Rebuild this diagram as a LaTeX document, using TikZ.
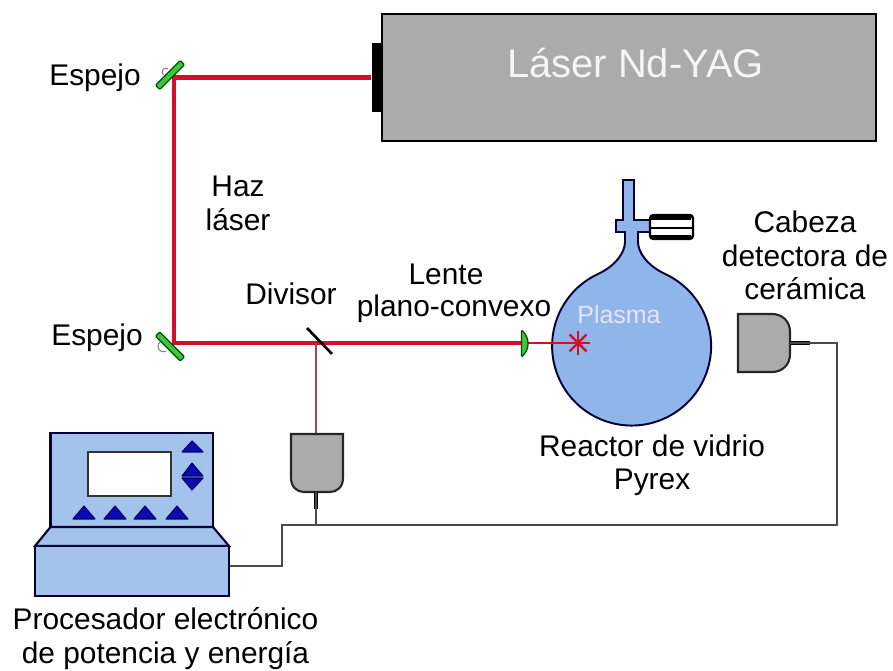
\documentclass[tikz,border=0pt]{standalone}
\usepackage{fontspec}
\setmainfont{Liberation Sans}
\definecolor{beamred}{HTML}{D2102C}
\definecolor{cablegrey}{HTML}{4A4A4A}
\definecolor{boxgrey}{HTML}{ABABAB}
\definecolor{panelblue}{HTML}{A3C2EC}
\definecolor{flaskblue}{HTML}{8FB5EA}
\definecolor{keyblue}{HTML}{0A0AB4}
\definecolor{mirrorgreen}{HTML}{3CC83C}
\tikzset{
  label/.style={align=center, font=\fontsize{8.5}{9.5}\selectfont, inner sep=0pt},
  beam/.style={draw=beamred, line width=1.15pt},
  thinbeam/.style={draw=beamred, line width=0.55pt},
  cable/.style={draw=cablegrey, line width=0.5pt},
  mirror/.style={draw=black!70!green, fill=mirrorgreen, line width=0.35pt, rounded corners=0.3pt},
  housing/.style={draw=black!85, fill=boxgrey, line width=0.6pt},
  panel/.style={draw=black!80!blue, fill=panelblue, line width=0.6pt},
  keytop/.style={fill=keyblue, draw=black!60!blue, line width=0.3pt, line join=round},
}
\begin{document}
\begin{tikzpicture}[x=1cm,y=-1cm]
\useasboundingbox (0,0) rectangle (8.93,6.71);

% laser head
\node[draw=black, fill=boxgrey, line width=0.7pt, minimum width=4.94cm, minimum height=1.27cm, inner sep=0pt] (laser) at (6.29,0.775) {};
\node[fill=black, minimum width=0.1cm, minimum height=0.69cm, inner sep=0pt] (nozzle) at (3.77,0.775) {};
\node[text=white!92!gray, font=\fontsize{11.35}{13}\selectfont, inner sep=0pt] (lasertext) at (6.355,0.63) {Láser Nd-YAG};

% beam corners
\coordinate (m1) at (1.74,0.775);
\coordinate (m2) at (1.74,3.43);
\coordinate (split) at (3.16,3.43);
\coordinate (lens) at (5.24,3.43);
\coordinate (spark) at (5.78,3.43);
\coordinate (headin) at (3.16,4.34);

% reactor
\draw[draw=black!80!blue, fill=flaskblue, line width=0.55pt]
  (6.23,1.80) -- (6.23,2.20) -- (6.16,2.20) -- (6.16,2.32) -- (6.25,2.32) -- (6.25,2.42)
  .. controls (6.25,2.52) and (6.16,2.656) .. (5.98,2.74)
  arc[start angle=245, end angle=-65, radius=0.795]
  .. controls (6.47,2.656) and (6.38,2.52) .. (6.38,2.42)
  -- (6.38,2.32) -- (6.50,2.32) -- (6.50,2.20) -- (6.34,2.20) -- (6.34,1.80) -- cycle;
\draw[fill=white, line width=0.7pt, rounded corners=1pt] (6.50,2.15) rectangle (6.93,2.39);
\fill[black] (6.50,2.15) rectangle (6.91,2.20);
\fill[black] (6.50,2.27) rectangle (6.92,2.29);
\fill[black] (6.50,2.35) rectangle (6.91,2.39);
\node[text=white!90!blue, font=\fontsize{7.1}{9}\selectfont, inner sep=0pt] (plasma) at (6.19,3.15) {Plasma};

% beam path
\path[beam] (nozzle) -- (m1) -- (m2) -- (lens);
\path[thinbeam] (lens) -- (spark);
\path[draw=beamred!55!gray, line width=0.3pt] (split) -- (headin);
\foreach \a in {0,45,90,135}
  \draw[beamred, line width=0.7pt] (spark) ++(\a:0.12) -- ++(\a+180:0.24);

% mirrors and optics
\draw[gray, line width=0.3pt] (1.635,0.75) .. controls (1.60,0.72) and (1.64,0.66) .. (1.68,0.69);
\draw[mirror, rotate around={45:(1.70,0.75)}] (1.525,0.72) rectangle (1.875,0.78);
\draw[gray, line width=0.3pt] (1.60,3.42) .. controls (1.55,3.47) and (1.60,3.54) .. (1.66,3.51);
\draw[mirror, rotate around={-45:(1.70,3.465)}] (1.525,3.435) rectangle (1.875,3.495);
\draw[black, line width=0.75pt] (3.07,3.28) -- (3.32,3.54);
\draw[mirror] (5.215,3.30) .. controls (5.30,3.38) and (5.30,3.49) .. (5.215,3.57) -- cycle;

% detector heads
\draw[housing] (2.91,4.34) -- (3.43,4.34) -- (3.43,4.78) .. controls (3.43,4.87) and (3.37,4.92) .. (3.30,4.92)
  -- (3.04,4.92) .. controls (2.97,4.92) and (2.91,4.87) .. (2.91,4.78) -- cycle;
\draw[housing] (7.38,3.14) -- (7.72,3.14) .. controls (7.82,3.14) and (7.90,3.21) .. (7.90,3.32)
  -- (7.90,3.54) .. controls (7.90,3.65) and (7.82,3.72) .. (7.72,3.72) -- (7.38,3.72) -- cycle;
\coordinate (headout) at (3.16,4.92);
\coordinate (join) at (3.16,5.25);
\coordinate (sideout) at (7.90,3.43);
\coordinate (c1) at (8.37,3.43);
\coordinate (c2) at (8.37,5.25);
\coordinate (c3) at (2.82,5.25);
\coordinate (c4) at (2.82,5.66);
\coordinate (boxout) at (2.29,5.66);
\draw[black, line width=0.9pt] (headout) -- ++(0,0.17);
\draw[black, line width=0.9pt] (sideout) -- ++(0.2,0);
\path[cable] (headout) -- (join);
\path[cable] (sideout) -- (c1) -- (c2) -- (c3) -- (c4) -- (boxout);

% processor
\draw[panel] (0.505,4.33) rectangle (2.13,5.27);
\draw[panel] (0.505,5.27) -- (2.13,5.27) -- (2.29,5.46) -- (0.35,5.46) -- cycle;
\draw[panel] (0.35,5.46) rectangle (2.29,5.96);
\draw[draw=black!80, fill=white, line width=0.6pt] (0.88,4.52) rectangle (1.71,4.96);
\draw[keytop] (1.82,4.52) -- (1.92,4.41) -- (2.03,4.52) -- cycle;
\draw[keytop] (1.82,4.76) -- (1.92,4.63) -- (2.03,4.76) -- cycle;
\draw[keytop] (1.82,4.78) -- (1.92,4.90) -- (2.03,4.78) -- cycle;
\foreach \x in {0.84,1.15,1.45,1.77}
  \draw[keytop] (\x-0.11,5.19) -- (\x,5.06) -- (\x+0.11,5.19) -- cycle;

% labels
\node[label] (esp1) at (0.95,0.78) {Espejo};
\node[label] (esp2) at (0.97,3.38) {Espejo};
\node[label] (haz) at (2.38,2.035) {Haz\\láser};
\node[label] (div) at (2.91,2.94) {Divisor};
\node[label] (lente) at (4.46,2.74) {Lente};
\node[label] (plano) at (4.54,3.09) {plano-convexo};
\node[label] (cabeza) at (8.05,2.555) {Cabeza\\detectora de\\cerámica};
\node[label] (reactor) at (6.52,4.65) {Reactor de vidrio\\Pyrex};
\node[label] (proc) at (1.655,6.385) {Procesador electrónico\\de potencia y energía};
\end{tikzpicture}
\end{document}
